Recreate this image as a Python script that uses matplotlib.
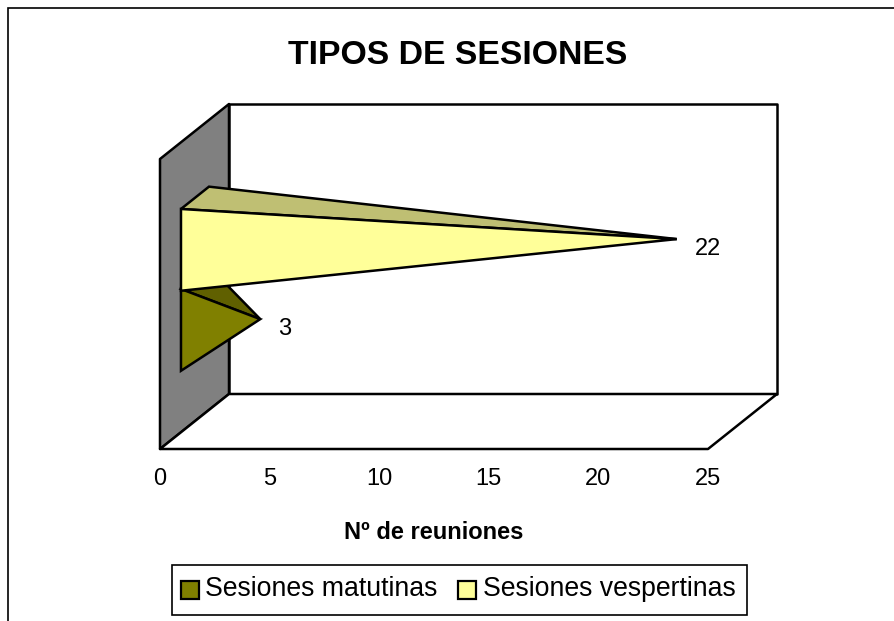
import matplotlib
matplotlib.use('Agg')
import matplotlib.pyplot as plt
from matplotlib.patches import Polygon, Rectangle, Patch

plt.rcParams['font.family'] = ['Liberation Sans', 'DejaVu Sans']

series = ['Sesiones matutinas', 'Sesiones vespertinas']
values = [3, 22]
x_ticks = [0, 5, 10, 15, 20, 25]
colores = ['#808000', '#FFFF99']
colores_sup = ['#606000', '#BFBF73']

W, H = 894, 621
fig = plt.figure(figsize=(W / 100, H / 100), dpi=100)

# plano frontal del grafico en pixeles
x0, x1, y_top, y_bot = 160, 708, 159, 449
ax = fig.add_axes([x0 / W, 1 - y_bot / H, (x1 - x0) / W, (y_bot - y_top) / H])
ax.set_xlim(0, 25)
ax.set_ylim(0, 1)
ax.patch.set_visible(False)
for s in ax.spines.values():
    s.set_visible(False)

# desplazamiento de profundidad en unidades de datos
dx = 69 / (x1 - x0) * 25
dy = 55 / (y_bot - y_top)


def p(x, y, d):
    return (x + dx * d, y + dy * d)


def cara(puntos, color, z, join='miter'):
    ax.add_patch(Polygon(puntos, closed=True, facecolor=color, edgecolor='black',
                         lw=1.8, joinstyle=join, clip_on=False, zorder=z))


# pared izquierda, fondo y suelo
cara([p(0, 0, 0), p(0, 1, 0), p(0, 1, 1), p(0, 0, 1)], '#808080', 1, 'round')
cara([p(0, 0, 1), p(0, 1, 1), p(25, 1, 1), p(25, 0, 1)], 'white', 1, 'round')
cara([p(0, 0, 0), p(0, 0, 1), p(25, 0, 1), p(25, 0, 0)], 'white', 1, 'round')

# piramides
alto = 0.282
centro = 0.491
d_ini, d_fin = 0.304, 0.71
for i, v in enumerate(values):
    yc = centro + (i - 0.5) * 0.276
    tip = p(v, yc, 0.5)
    z = 3 + i
    cara([p(0, yc + alto / 2, d_ini), p(0, yc + alto / 2, d_fin), tip], colores_sup[i], z)
    cara([p(0, yc - alto / 2, d_ini), p(0, yc + alto / 2, d_ini), tip], colores[i], z)
    ax.annotate(str(v), xy=tip, xytext=(13, -7), textcoords='offset points', fontsize=17,
                ha='left', va='center', annotation_clip=False, zorder=6)

ax.set_yticks([])
ax.set_xticks(x_ticks)
ax.tick_params(axis='x', length=0, labelsize=17, pad=13.5)
ax.set_xlabel('Nº de reuniones', fontsize=17, fontweight='bold', labelpad=22.5)

fig.text(458 / W, 1 - 56 / H, 'TIPOS DE SESIONES', fontsize=24.3, fontweight='bold',
         ha='center', va='center')

# marco exterior, sin borde a la derecha
fig.add_artist(Rectangle((8 / W, -0.01), 1, 1 - 8 / H + 0.01, transform=fig.transFigure,
                         fill=False, edgecolor='black', lw=1.2))

# caja de la leyenda
fig.add_artist(Rectangle((172 / W, 1 - 615 / H), 575 / W, 50 / H, transform=fig.transFigure,
                         facecolor='white', edgecolor='black', lw=1.2))

handles = [Patch(facecolor=c, edgecolor='black', lw=1.6) for c in colores]
leg = fig.legend(handles, series, loc='center', bbox_to_anchor=(458 / W, 1 - 589 / H),
                 ncol=2, fontsize=19.2, frameon=False, handlelength=0.67, handleheight=0.67,
                 handletextpad=0.26, columnspacing=0.75, borderpad=0, borderaxespad=0)
for h in leg.legend_handles:
    h.set_y(h.get_y() - 2.2)

fig.savefig('out.png', dpi=100)
